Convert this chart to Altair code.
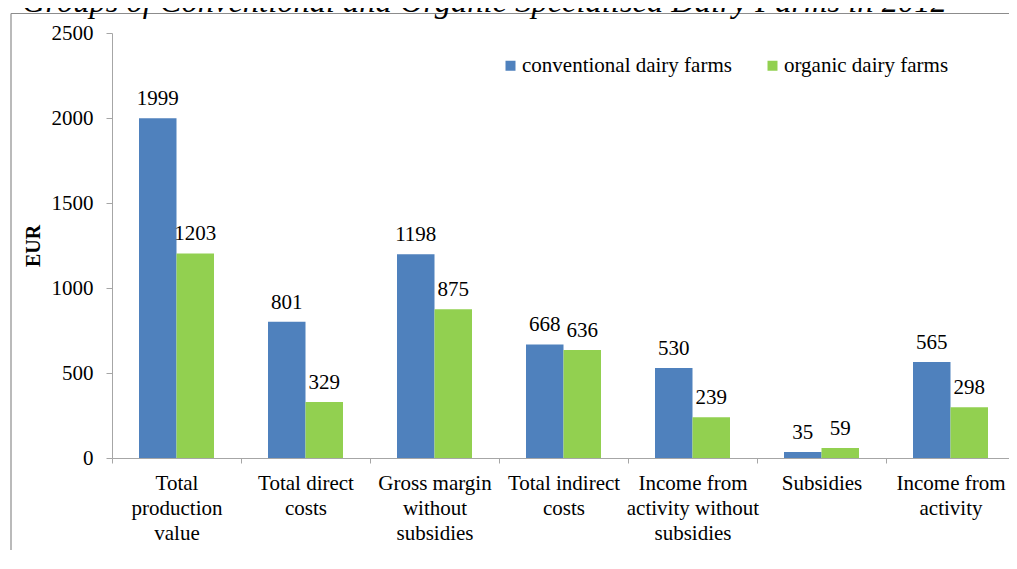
import altair as alt
import pandas as pd

categories = [
    "Total|production|value",
    "Total direct|costs",
    "Gross margin|without|subsidies",
    "Total indirect|costs",
    "Income from|activity without|subsidies",
    "Subsidies",
    "Income from|activity",
]
series = ["conventional dairy farms", "organic dairy farms"]
conventional = [1999, 801, 1198, 668, 530, 35, 565]
organic = [1203, 329, 875, 636, 239, 59, 298]
colors = ["#4f81bd", "#92d050"]
y_ticks = [0, 500, 1000, 1500, 2000, 2500]
title_text = "Groups of Conventional and Organic Specialised Dairy Farms in 2012"

rows = []
for c, a, b in zip(categories, conventional, organic):
    rows.append({"category": c, "series": series[0], "value": a})
    rows.append({"category": c, "series": series[1], "value": b})
df = pd.DataFrame(rows)

FONT = "Liberation Serif"
STEP = 129
BAR = 37.5
PO = (STEP / BAR - 2) / 2

x_enc = alt.X(
    "category:N",
    sort=categories,
    scale=alt.Scale(range=[0, STEP * len(categories)], paddingInner=0, paddingOuter=0),
    axis=alt.Axis(
        title=None,
        labelExpr="split(datum.label, '|')",
        labelAngle=0,
        labelFont=FONT,
        labelFontSize=21,
        labelLineHeight=25,
        labelPadding=9,
        labelColor="black",
        tickBand="extent",
        tickSize=5,
        domainColor="#a6a6a6",
        tickColor="#a6a6a6",
        labelLimit=200,
    ),
)
xoff = alt.XOffset("series:N", sort=series, scale=alt.Scale(paddingOuter=PO, paddingInner=0))
y_enc = alt.Y(
    "value:Q",
    scale=alt.Scale(domain=[0, 2500]),
    axis=alt.Axis(
        values=y_ticks,
        format="d",
        title="EUR",
        titleFont=FONT,
        titleFontWeight="bold",
        titleFontSize=20,
        titleColor="black",
        titlePadding=8,
        labelFont=FONT,
        labelFontSize=21,
        labelColor="black",
        labelPadding=13,
        tickSize=6,
        grid=False,
        domainColor="#a6a6a6",
        tickColor="#a6a6a6",
    ),
)
color_enc = alt.Color(
    "series:N",
    sort=series,
    scale=alt.Scale(domain=series, range=colors),
    legend=alt.Legend(
        title=None,
        orient="none",
        legendX=388,
        legendY=22,
        direction="horizontal",
        symbolType="square",
        symbolSize=100,
        symbolStrokeWidth=0,
        labelFont=FONT,
        labelFontSize=21,
        labelColor="black",
        columnPadding=30,
        labelOffset=1,
        labelLimit=400,
    ),
)

base = alt.Chart(df)
bars = base.mark_bar().encode(x=x_enc, xOffset=xoff, y=y_enc, color=color_enc)
labels = base.mark_text(
    baseline="alphabetic", dy=-13, font=FONT, fontSize=21, color="black"
).encode(x=x_enc, xOffset=xoff, y=y_enc, text="value:Q")

one = pd.DataFrame({"t": [title_text]})
frame_left = alt.Chart(one).mark_rule(color="#8c8c8c", strokeWidth=1.2).encode(
    x=alt.value(-101), y=alt.value(-19.5), y2=alt.value(600)
)
frame_top = alt.Chart(one).mark_rule(color="#8c8c8c", strokeWidth=1.2).encode(
    x=alt.value(-101), x2=alt.value(1000), y=alt.value(-19.5)
)
title = alt.Chart(one).mark_text(
    align="left", baseline="alphabetic", font=FONT, fontStyle="italic", fontSize=32.5, color="black"
).encode(x=alt.value(-90), y=alt.value(-21), text="t:N")

chart = (
    alt.layer(frame_left, frame_top, title, bars, labels)
    .properties(
        width=897,
        height=425,
        padding={"left": 104, "top": 25, "right": 0, "bottom": 92},
        autosize=alt.AutoSizeParams(type="none"),
    )
    .configure_view(stroke=None)
)
chart.save("out.html", embed_options={"renderer": "svg", "actions": False})
